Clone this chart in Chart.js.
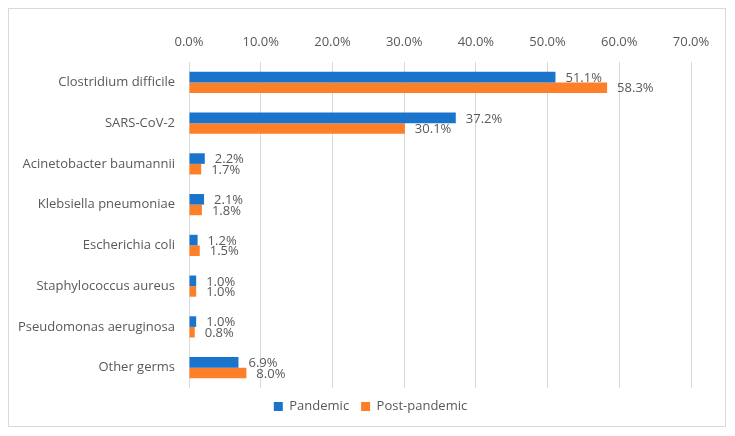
<!DOCTYPE html>
<html>
<head>
<meta charset="utf-8">
<script src="https://cdn.jsdelivr.net/npm/chart.js@4"></script>
<style>
html,body{margin:0;padding:0;background:#fff;}
#wrap{position:relative;width:735px;height:436px;}
#frame{position:absolute;left:8px;top:8px;width:718px;height:419px;border:1px solid #d9d9d9;box-sizing:border-box;pointer-events:none;}
</style>
</head>
<body>
<div id="wrap">
<canvas id="chart" width="735" height="436"></canvas>
<div id="frame"></div>
</div>
<script>
// chart data
var categories=['Clostridium difficile','SARS-CoV-2','Acinetobacter baumannii','Klebsiella pneumoniae','Escherichia coli','Staphylococcus aureus','Pseudomonas aeruginosa','Other germs'];
var pandemic=[51.1,37.2,2.2,2.1,1.2,1.0,1.0,6.9];
var postPandemic=[58.3,30.1,1.7,1.8,1.5,1.0,0.8,8.0];
var seriesNames=['Pandemic','Post-pandemic'];

var FONT='"Open Sans", sans-serif';
var GREY='#595959';

/* value labels next to bar ends */
var valueLabels={
    id:'valueLabels',
    afterDatasetsDraw:function(chart){
        var ctx=chart.ctx;
        ctx.save();
        ctx.font='13px '+FONT;
        ctx.fillStyle=GREY;
        ctx.textAlign='left';
        ctx.textBaseline='middle';
        chart.data.datasets.forEach(function(ds,i){
            chart.getDatasetMeta(i).data.forEach(function(el,j){
                ctx.fillText(ds.data[j].toFixed(1)+'%',el.x+10,el.y+1);
            });
        });
        ctx.restore();
    }
};

/* legend sits a bit right of centre in the original */
var legendShift={
    id:'legendShift',
    afterLayout:function(chart){
        var lg=chart.legend;if(!lg)return;
        lg.left+=25;lg.right+=25;
    }
};

new Chart(document.getElementById('chart'),{
    type:'bar',
    data:{
        labels:categories,
        datasets:[
            {label:seriesNames[0],data:pandemic,backgroundColor:'#1b74cc',barPercentage:1,categoryPercentage:0.52},
            {label:seriesNames[1],data:postPandemic,backgroundColor:'#fd7f28',barPercentage:1,categoryPercentage:0.52}
        ]
    },
    options:{
        indexAxis:'y',
        responsive:false,
        animation:false,
        layout:{padding:{left:0,right:44,top:28,bottom:13}},
        plugins:{
            legend:{
                position:'bottom',
                labels:{boxWidth:9,boxHeight:9,color:GREY,font:{family:FONT,size:13},padding:12}
            },
            tooltip:{enabled:false}
        },
        scales:{
            x:{
                position:'top',
                min:0,max:70,
                border:{display:false},
                grid:{color:'#d9d9d9',drawTicks:false},
                ticks:{stepSize:10,padding:12,color:GREY,font:{family:FONT,size:13},callback:function(v){return v.toFixed(1)+'%';}},
                afterFit:function(s){s.height=34;}
            },
            y:{
                border:{display:false},
                grid:{display:false,drawTicks:false},
                ticks:{padding:14,color:GREY,font:{family:FONT,size:13}},
                afterFit:function(s){s.width=189;}
            }
        }
    },
    plugins:[valueLabels,legendShift]
});
</script>
</body>
</html>
